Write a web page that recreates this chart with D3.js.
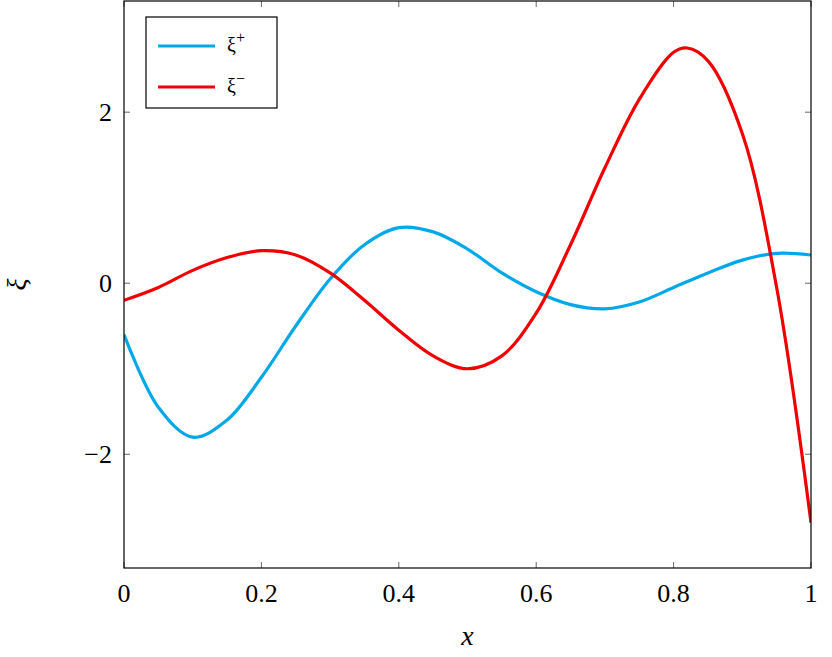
<!DOCTYPE html><html><head><meta charset="utf-8">
<script src="https://cdn.jsdelivr.net/npm/d3@7"></script>
<style>body{margin:0;background:#fff}text{font-family:"Liberation Serif","DejaVu Serif",serif}</style></head><body>
<svg id="c" width="832" height="657"></svg>
<script>
const xs=[0,0.05,0.1,0.15,0.2,0.25,0.3,0.35,0.4,0.45,0.5,0.55,0.6,0.65,0.7,0.75,0.8,0.85,0.9,0.95,1.0];
const xiPlus=[-0.6,-1.45,-1.8,-1.6,-1.1,-0.5,0.05,0.45,0.65,0.6,0.4,0.12,-0.1,-0.25,-0.3,-0.22,-0.05,0.12,0.27,0.35,0.33];
const xsMinus=[0,0.05,0.1,0.15,0.2,0.25,0.3,0.35,0.4,0.45,0.5,0.55,0.6,0.65,0.7,0.75,0.8,0.82,0.85,0.9,0.95,1.0];
const xiMinus=[-0.2,-0.05,0.15,0.3,0.38,0.33,0.12,-0.2,-0.55,-0.85,-1.0,-0.85,-0.35,0.45,1.35,2.15,2.7,2.75,2.6,1.75,-0.05,-2.8];
const xTicks=[0,0.2,0.4,0.6,0.8,1];
const xTickLabels=["0","0.2","0.4","0.6","0.8","1"];
const yTicks=[-2,0,2];
const yTickLabels=["\u22122","0","2"];
const svg=d3.select("#c");
const L=124,R=811,T=1,B=568;
const x=d3.scaleLinear().domain([0,1]).range([L,R]);
const y=d3.scaleLinear().domain([-3.33,3.3]).range([B,T]);
const g=svg.append("g");
// ticks on all sides
xTicks.forEach(t=>{g.append("line").attr("x1",x(t)).attr("x2",x(t)).attr("y1",B).attr("y2",B-6).attr("stroke","#000").attr("stroke-width",0.6);
 g.append("line").attr("x1",x(t)).attr("x2",x(t)).attr("y1",T).attr("y2",T+6).attr("stroke","#000").attr("stroke-width",0.6);});
yTicks.forEach(t=>{g.append("line").attr("y1",y(t)).attr("y2",y(t)).attr("x1",L).attr("x2",L+6).attr("stroke","#000").attr("stroke-width",0.6);
 g.append("line").attr("y1",y(t)).attr("y2",y(t)).attr("x1",R).attr("x2",R-6).attr("stroke","#000").attr("stroke-width",0.6);});
xTicks.forEach((t,i)=>g.append("text").attr("x",x(t)).attr("y",B+34).attr("text-anchor","middle").attr("font-size",26).text(xTickLabels[i]));
yTicks.forEach((t,i)=>g.append("text").attr("x",L-12).attr("y",y(t)+9).attr("text-anchor","end").attr("font-size",26).text(yTickLabels[i]));
g.append("text").attr("x",(L+R)/2).attr("y",645).attr("text-anchor","middle").attr("font-size",28).attr("font-style","italic").text("x");
g.append("text").attr("transform",`translate(26,${(T+B)/2}) rotate(-90)`).attr("text-anchor","middle").attr("font-size",28).attr("font-style","italic").text("ξ");
const clip=svg.append("clipPath").attr("id","cp").append("rect").attr("x",L).attr("y",T).attr("width",R-L).attr("height",B-T);
const line=d3.line().curve(d3.curveCatmullRom.alpha(0.5));
svg.append("path").attr("clip-path","url(#cp)").attr("d",line(xs.map((v,i)=>[x(v),y(xiPlus[i])]))).attr("fill","none").attr("stroke","#00a8e8").attr("stroke-width",3.2);
svg.append("path").attr("clip-path","url(#cp)").attr("d",line(xsMinus.map((v,i)=>[x(v),y(xiMinus[i])]))).attr("fill","none").attr("stroke","#f00000").attr("stroke-width",3.2);
svg.append("rect").attr("x",L).attr("y",T).attr("width",R-L).attr("height",B-T).attr("fill","none").attr("stroke","#000").attr("stroke-width",1.2);
// legend
svg.append("rect").attr("x",146).attr("y",17).attr("width",131).attr("height",91).attr("fill","#fff").attr("stroke","#000").attr("stroke-width",1.2);
[["#00a8e8","+",46],["#f00000","\u2212",87]].forEach(([c,s,yy])=>{
 svg.append("line").attr("x1",158).attr("x2",215).attr("y1",yy).attr("y2",yy).attr("stroke",c).attr("stroke-width",3.2);
 const t=svg.append("text").attr("x",227).attr("y",yy+6).attr("font-size",20);
 t.append("tspan").text("ξ"); t.append("tspan").attr("dy",-9).attr("font-size",16).text(s);
});
</script></body></html>
